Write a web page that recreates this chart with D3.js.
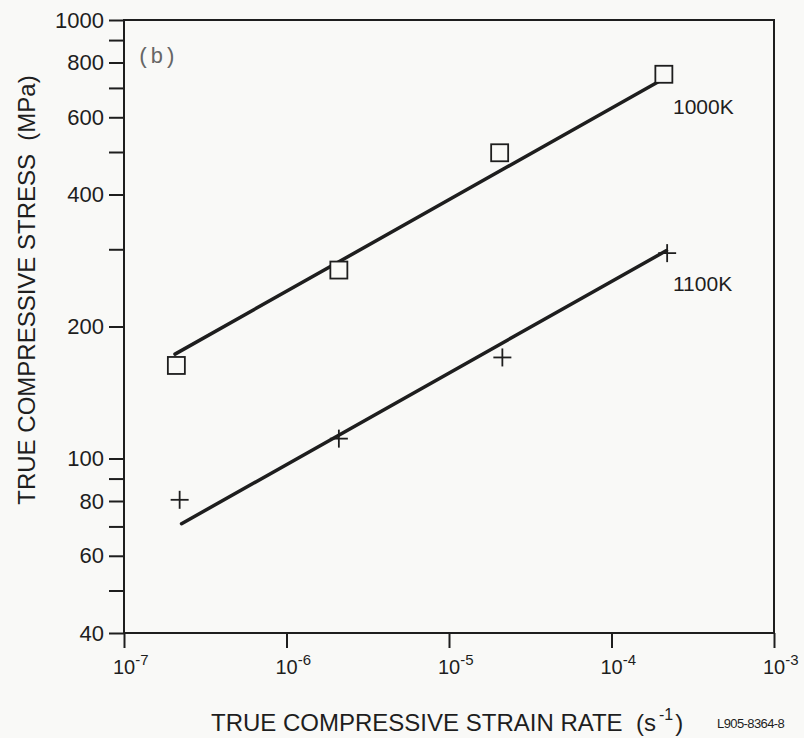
<!DOCTYPE html>
<html><head><meta charset="utf-8">
<script src="https://cdn.jsdelivr.net/npm/d3@7"></script>
<style>html,body{margin:0;padding:0;background:#f9f9f7;}svg{display:block;}</style>
</head><body>
<script>
// ---- data ----
const strainRate1000 = [2.1e-7, 2.1e-6, 2.05e-5, 2.1e-4];
const stress1000 = [163, 269, 498, 752];
const strainRate1100 = [2.2e-7, 2.1e-6, 2.13e-5, 2.2e-4];
const stress1100 = [80.5, 111, 170, 294];
const fitRate1000 = [2.06e-7, 1.98e-4];
const fitStress1000 = [173, 726];
const fitRate1100 = [2.26e-7, 2.18e-4];
const fitStress1100 = [71, 298];
const xTickExps = [-7, -6, -5, -4, -3];
const yTickLabels = [40, 60, 80, 100, 200, 400, 600, 800, 1000];
const yMinorTicks = [50, 70, 90, 300, 500, 700, 900];
const seriesLabels = ["1000K", "1100K"];

const W = 804, H = 738;
const svg = d3.select("body").append("svg").attr("width", W).attr("height", H);
svg.append("rect").attr("width", W).attr("height", H).attr("fill", "#f9f9f7");

const x = d3.scaleLog().domain([1e-7, 1e-3]).range([124, 774]);
const y = d3.scaleLog().domain([40, 1000]).range([633, 20]);
const ink = "#1e1e1e";
const font = "'Liberation Sans', Arial, Helvetica, sans-serif";

// frame
svg.append("rect").attr("x", x(1e-7)).attr("y", y(1000))
  .attr("width", x(1e-3) - x(1e-7)).attr("height", y(40) - y(1000))
  .attr("fill", "none").attr("stroke", ink).attr("stroke-width", 2);

// y axis
const yAxis = d3.axisLeft(y).tickValues(yTickLabels.concat(yMinorTicks))
  .tickSize(15).tickPadding(5)
  .tickFormat(d => yTickLabels.includes(d) ? String(d) : "");
const gy = svg.append("g").attr("transform", `translate(${x(1e-7)},0)`).call(yAxis);
gy.select(".domain").remove();
gy.selectAll(".tick line").attr("stroke", ink).attr("stroke-width", 2);
gy.selectAll(".tick text").attr("fill", ink).attr("font-family", font).attr("font-size", 22);

// x axis
const xAxis = d3.axisBottom(x).tickValues(xTickExps.map(e => Math.pow(10, e)))
  .tickSize(15).tickFormat("");
const gx = svg.append("g").attr("transform", `translate(0,${y(40)})`).call(xAxis);
gx.select(".domain").remove();
gx.selectAll(".tick line").attr("stroke", ink).attr("stroke-width", 2);
xTickExps.forEach(e => {
  const px = x(Math.pow(10, e));
  const t = svg.append("text").attr("x", px - 11).attr("y", 674)
    .attr("font-family", font).attr("font-size", 20).attr("fill", ink);
  t.append("tspan").text("10");
  t.append("tspan").attr("font-size", 15).attr("dy", -9).text(String(e).replace("-", "-"));
});

// axis titles
const xt = svg.append("text").attr("x", 211).attr("y", 731)
  .attr("font-family", font).attr("font-size", 24).attr("fill", ink)
  .attr("xml:space", "preserve");
xt.append("tspan").text("TRUE COMPRESSIVE STRAIN RATE  (s");
xt.append("tspan").attr("font-size", 16).attr("dy", -11).attr("dx", 3).text("-1");
xt.append("tspan").attr("dy", 11).attr("dx", 2).text(")");

svg.append("text").attr("transform", "translate(35,290) rotate(-90)")
  .attr("text-anchor", "middle").attr("font-family", font).attr("font-size", 24)
  .attr("fill", ink).attr("xml:space", "preserve")
  .text("TRUE COMPRESSIVE STRESS  (MPa)");

svg.append("text").attr("x", 717).attr("y", 728)
  .attr("font-family", font).attr("font-size", 13).attr("letter-spacing", -0.6)
  .attr("fill", ink).text("L905-8364-8");

svg.append("text").attr("x", 137).attr("y", 63)
  .attr("font-family", "'Liberation Mono', 'DejaVu Sans Mono', monospace")
  .attr("font-size", 22).attr("fill", "#666").text("(b)");

// fit lines
const line = d3.line().x(d => x(d[0])).y(d => y(d[1]));
svg.append("path").datum(d3.zip(fitRate1000, fitStress1000)).attr("d", line)
  .attr("fill", "none").attr("stroke", ink).attr("stroke-width", 3.5).attr("stroke-linecap", "round");
svg.append("path").datum(d3.zip(fitRate1100, fitStress1100)).attr("d", line)
  .attr("fill", "none").attr("stroke", ink).attr("stroke-width", 3.5).attr("stroke-linecap", "round");

// squares
const sq = 17;
svg.selectAll("rect.sq").data(d3.zip(strainRate1000, stress1000)).enter().append("rect")
  .attr("class", "sq").attr("x", d => x(d[0]) - sq / 2).attr("y", d => y(d[1]) - sq / 2)
  .attr("width", sq).attr("height", sq).attr("fill", "#f9f9f7")
  .attr("stroke", ink).attr("stroke-width", 1.8);

// pluses
const ps = 9;
const plus = svg.selectAll("g.plus").data(d3.zip(strainRate1100, stress1100)).enter().append("g")
  .attr("class", "plus").attr("transform", d => `translate(${x(d[0])},${y(d[1])})`);
plus.append("line").attr("x1", -ps).attr("x2", ps).attr("stroke", ink).attr("stroke-width", 1.8);
plus.append("line").attr("y1", -ps).attr("y2", ps).attr("stroke", ink).attr("stroke-width", 1.8);

// series labels
svg.append("text").attr("x", 673).attr("y", 114).attr("font-family", font)
  .attr("font-size", 21).attr("fill", ink).text(seriesLabels[0]);
svg.append("text").attr("x", 673).attr("y", 291).attr("font-family", font)
  .attr("font-size", 21).attr("fill", ink).text(seriesLabels[1]);
</script>
</body></html>
